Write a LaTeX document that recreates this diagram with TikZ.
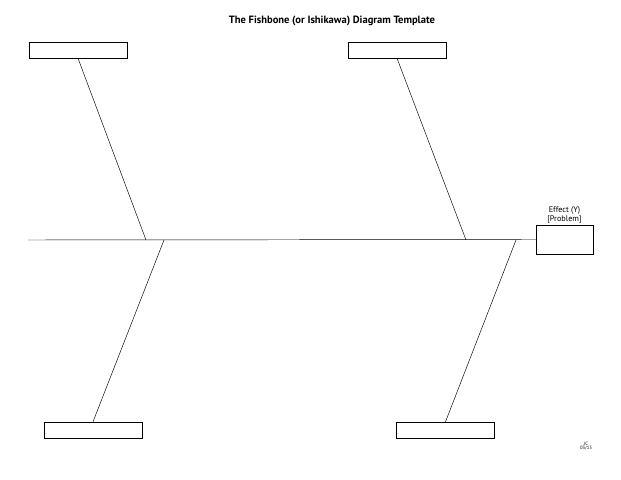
\documentclass[tikz,border=0pt]{standalone}
\usepackage{fontspec}
\setmainfont{PT Sans}
\usetikzlibrary{calc}
\begin{document}
\begin{tikzpicture}[x=0.03cm,y=-0.03cm,font=\rmfamily,
  causebox/.style={draw,thin,minimum width=98*0.03cm,minimum height=16*0.03cm,inner sep=0pt},
  bone/.style={draw,thin}]
\useasboundingbox (0,0) rectangle (621,480);
\node[font=\bfseries\small] (title) at (332,21) {The Fishbone (or Ishikawa) Diagram Template};
% causes
\node[causebox] (C-1) at (78,50) {};
\node[causebox] (C-2) at (397,50) {};
\node[causebox] (C-3) at (93,430) {};
\node[causebox] (C-4) at (445.5,430) {};
\node[draw,thin,minimum width=57*0.03cm,minimum height=29*0.03cm,inner sep=0pt] (effect) at (564.5,239.5) {};
\node[font=\scriptsize,align=center,anchor=south,inner sep=1pt] (elabel) at (effect.north) {Effect (Y)\\{}[Problem]};
\node[font=\fontsize{4}{4}\selectfont,align=center] (sign) at (586,446) {JC\\03/13};
\coordinate (tail) at (28,240);
\coordinate (J-1) at (146,240);
\coordinate (J-2) at (466,240);
\coordinate (J-3) at (164,240);
\coordinate (J-4) at (516,240);
\draw[bone] (tail) -- (effect.west);
\foreach \N/\J in {1/1,2/2} \draw[bone] (C-\N.south) -- (J-\J);
\foreach \N/\J in {3/3,4/4} \draw[bone] (C-\N.north) -- (J-\J);
\end{tikzpicture}
\end{document}
